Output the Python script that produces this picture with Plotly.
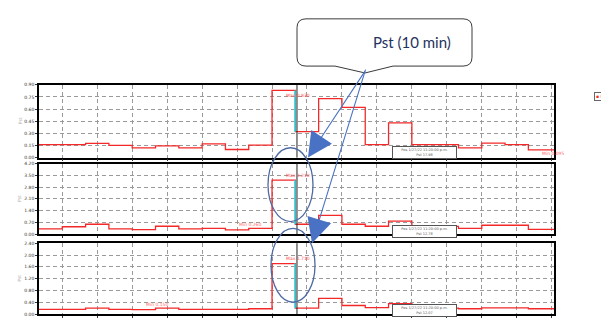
import plotly.graph_objects as go

# ---- data (10-min Pst values, three phases) ----
times = [-10, 0, 10, 20, 30, 40, 50, 60, 70, 80, 90, 100, 110, 120, 130, 140, 150, 160, 170, 180, 190, 200]
t_end = 211
pst_l1 = [0.16, 0.16, 0.175, 0.15, 0.12, 0.145, 0.12, 0.17, 0.10, 0.155, 0.83, 0.32, 0.73, 0.62, 0.16, 0.43, 0.16, 0.16, 0.12, 0.18, 0.16, 0.095]
pst_l2 = [0.33, 0.45, 0.60, 0.33, 0.28, 0.48, 0.33, 0.35, 0.26, 0.35, 3.21, 0.60, 1.13, 0.60, 0.48, 0.78, 0.47, 0.47, 0.35, 0.54, 0.54, 0.29]
pst_l3 = [0.16, 0.16, 0.20, 0.16, 0.15, 0.20, 0.16, 0.16, 0.16, 0.18, 1.71, 0.20, 0.53, 0.29, 0.22, 0.35, 0.20, 0.20, 0.18, 0.21, 0.21, 0.18]
y_ticks_1 = [0, 0.15, 0.30, 0.45, 0.60, 0.75, 0.90]
y_ticks_2 = [0, 0.7, 1.4, 2.1, 2.8, 3.5, 4.2]
y_ticks_3 = [0, 0.4, 0.8, 1.2, 1.6, 2.0, 2.4]
info_texts = ["Pos 1/27/22 11:20:00 p.m.<br>Pst 17.98",
              "Pos 1/27/22 11:20:00 p.m.<br>Pst 12.78",
              "Pos 1/27/22 11:20:00 p.m.<br>Pst 12.07"]
cursor_t = 100

# page offset caused by the default body margin
OFF = 8
W, H = 609 - OFF, 320 - OFF
def px(x): return (x - OFF) / W
def py(y): return 1 - (y - OFF) / H

panels = [
    (pst_l1, y_ticks_1, (84, 158), -5, -4, 146, info_texts[0]),
    (pst_l2, y_ticks_2, (164, 236), 5, 5, 226, info_texts[1]),
    (pst_l3, y_ticks_3, (245, 317), 5, 5, 307, info_texts[2]),
]

fig = go.Figure()
RED = "#f42828"
GRID = "#9a9a9a"
shapes = []
annotations = []

for i, (vals, yt, (top, bot), max_shift, min_shift, box_top, info) in enumerate(panels):
    n = "" if i == 0 else str(i + 1)
    xa, ya = "x" + n, "y" + n
    fig.add_trace(go.Scatter(x=times + [t_end], y=vals + [vals[-1]], mode="lines",
                             line=dict(color=RED, width=1.3, shape="hv"),
                             xaxis=xa, yaxis=ya, showlegend=False, hoverinfo="skip"))
    ci = times.index(cursor_t)
    fig.add_trace(go.Scatter(x=[cursor_t - 0.2, cursor_t - 0.2], y=[vals[ci - 1], vals[ci]], mode="lines",
                             line=dict(color="#25e6f2", width=1.6),
                             xaxis=xa, yaxis=ya, showlegend=False, hoverinfo="skip"))
    fig.layout["xaxis" + n] = dict(domain=[px(39), px(554)], range=[-10, t_end], anchor=ya,
                                   showgrid=True, gridcolor=GRID, griddash="4px,3px", gridwidth=1,
                                   tick0=0, dtick=15, showticklabels=False, ticks="outside",
                                   ticklen=2, tickcolor="#333", zeroline=False,
                                   showline=True, linecolor="black", linewidth=1.5, mirror=True)
    fig.layout["yaxis" + n] = dict(domain=[py(bot), py(top)], range=[yt[0], yt[-1]], anchor=xa,
                                   tickvals=yt, ticktext=[f"{v:.2f}" for v in yt],
                                   showgrid=True, gridcolor=GRID, griddash="4px,3px", gridwidth=1,
                                   ticks="outside", ticklen=2, tickcolor="#333",
                                   tickfont=dict(size=4.5, color="#333", family="DejaVu Sans"),
                                   zeroline=False, showline=True, linecolor="black",
                                   linewidth=1.5, mirror=True)
    # cursor line
    shapes.append(dict(type="line", xref=xa, yref=ya + " domain", x0=cursor_t + 0.7, x1=cursor_t + 0.7,
                       y0=0, y1=1, line=dict(color="#222", width=1)))
    # max / min labels
    vmax = max(vals); imax = vals.index(vmax)
    vmin = min(vals); imin = vals.index(vmin)
    annotations.append(dict(xref=xa, yref=ya, x=times[imax] + 5, y=vmax, xanchor="left",
                            yanchor="middle", yshift=max_shift, text=f"Max {vmax:.3f}", showarrow=False,
                            font=dict(size=4.5, color="#ff5050", family="DejaVu Sans")))
    annotations.append(dict(xref=xa, yref=ya, x=times[imin] + 5, y=vmin, xanchor="left",
                            yanchor="middle", yshift=min_shift, text=f"Min {vmin:.3f}", showarrow=False,
                            font=dict(size=4.5, color="#ff6a6a", family="DejaVu Sans")))
    # info box
    annotations.append(dict(xref="paper", yref="paper", x=px(392), y=py(box_top), xanchor="left",
                            yanchor="top", text=info, showarrow=False, width=63, height=11,
                            bgcolor="white", bordercolor="#555", borderwidth=1, borderpad=0,
                            font=dict(size=3.5, color="#555", family="DejaVu Sans")))
    # y-axis title
    annotations.append(dict(xref="paper", yref="paper", x=px(20), y=py((top + bot) / 2),
                            xanchor="center", yanchor="middle",
                            text="Pst", textangle=-90, showarrow=False,
                            font=dict(size=4.5, color="#aaa", family="DejaVu Sans")))

# legend box
annotations.append(dict(xref="paper", yref="paper", x=px(594), y=py(95.5), xanchor="left",
                        yanchor="middle", showarrow=False,
                        text="<span style='color:#f42828'>▪</span> Pst",
                        bgcolor="white", bordercolor="#666", borderwidth=1, borderpad=1,
                        font=dict(size=4.5, color="#223", family="DejaVu Sans")))

# callout box
x0, x1, y0, y1, r = 297, 472, 17, 65, 9
pts = (f"M {px(x0 + r)},{py(y0)} L {px(x1 - r)},{py(y0)} Q {px(x1)},{py(y0)} {px(x1)},{py(y0 + r)} "
       f"L {px(x1)},{py(y1 - r)} Q {px(x1)},{py(y1)} {px(x1 - r)},{py(y1)} "
       f"L {px(393)},{py(y1)} L {px(365)},{py(72)} L {px(335)},{py(y1)} "
       f"L {px(x0 + r)},{py(y1)} Q {px(x0)},{py(y1)} {px(x0)},{py(y1 - r)} "
       f"L {px(x0)},{py(y0 + r)} Q {px(x0)},{py(y0)} {px(x0 + r)},{py(y0)} Z")
shapes.append(dict(type="path", xref="paper", yref="paper", path=pts,
                   fillcolor="white", line=dict(color="#3a3a3a", width=1)))
annotations.append(dict(xref="paper", yref="paper", x=px(412), y=py(41), xanchor="center",
                        yanchor="middle", text="Pst (10 min)",
                        showarrow=False, font=dict(size=15, color="#1f3260", family="Lato")))

# ellipses
ELL = "#4d6aa3"
shapes.append(dict(type="circle", xref="paper", yref="paper", x0=px(268), x1=px(313),
                   y0=py(223), y1=py(148), line=dict(color=ELL, width=1.3)))
shapes.append(dict(type="circle", xref="paper", yref="paper", x0=px(271), x1=px(315),
                   y0=py(305), y1=py(230), line=dict(color=ELL, width=1.3)))

# arrows
ARR = "#4a72c4"
annotations.append(dict(xref="paper", yref="paper", x=px(308), y=py(158), ax=58, ay=-88,
                        text="", showarrow=True, arrowhead=2, arrowsize=4.5, arrowwidth=1.1,
                        arrowcolor=ARR))
annotations.append(dict(xref="paper", yref="paper", x=px(312), y=py(245), ax=54, ay=-175,
                        text="", showarrow=True, arrowhead=2, arrowsize=4.5, arrowwidth=1.1,
                        arrowcolor=ARR))

fig.update_layout(width=W, height=H, autosize=False, margin=dict(l=0, r=0, t=0, b=0, pad=0),
                  paper_bgcolor="white", plot_bgcolor="white", showlegend=False,
                  shapes=shapes, annotations=annotations)

fig.write_html("out.html")
